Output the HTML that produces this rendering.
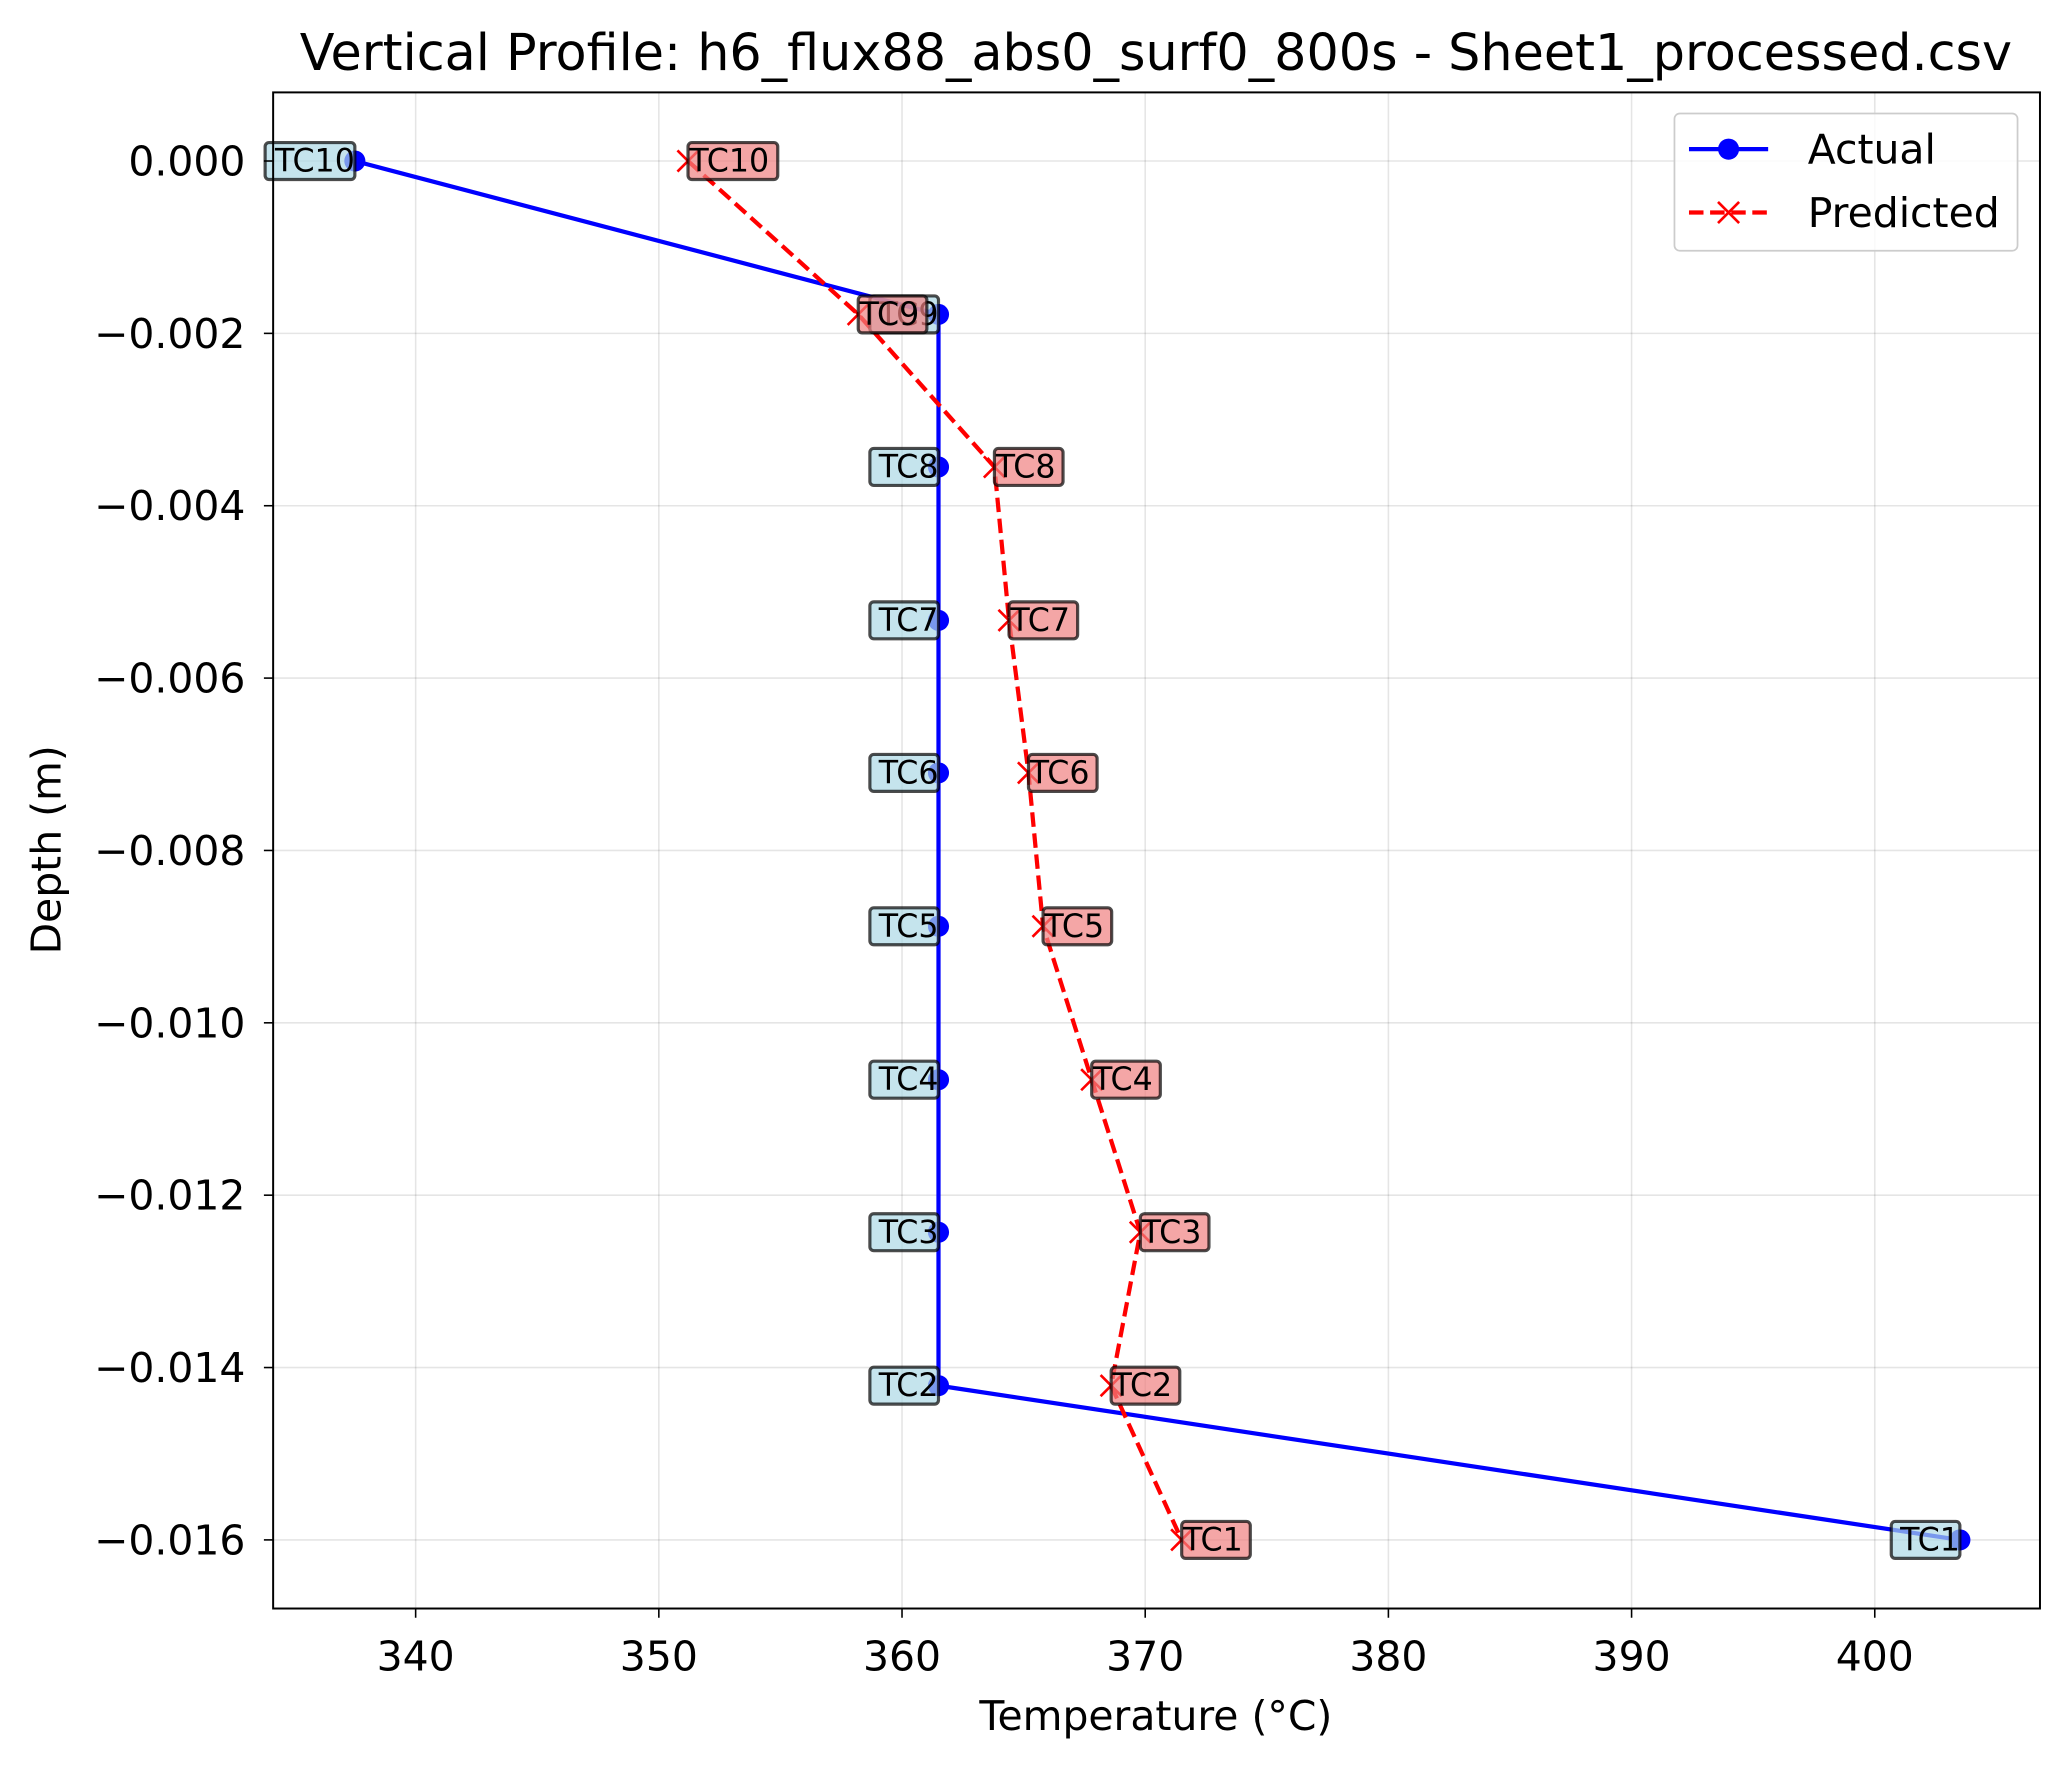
<!DOCTYPE html>
<html><head><meta charset="utf-8"><style>
html,body{margin:0;padding:0;background:#fff}
svg{display:block;font-family:"DejaVu Sans","Liberation Sans",sans-serif}
</style></head><body>
<svg id="chart" width="2069" height="1769" viewBox="0 0 1568 1340.6" xmlns="http://www.w3.org/2000/svg">
<rect width="1568" height="1340.6" fill="#fff"/>
<g id="grid"></g>
<g id="series"></g>
<g id="labels"></g>
<rect x="207" y="70" width="1339" height="1149" fill="none" stroke="#000" stroke-width="1.5"/>
<g id="ticks"></g>
<text x="876" y="53" font-size="38.5" text-anchor="middle">Vertical Profile: h6_flux88_abs0_surf0_800s - Sheet1_processed.csv</text>
<text x="876" y="1311" font-size="31" text-anchor="middle">Temperature (°C)</text>
<text transform="translate(46,644) rotate(-90)" font-size="31" text-anchor="middle">Depth (m)</text>
<g>
<rect x="1269" y="86" width="260" height="104" rx="4" fill="#fff" fill-opacity="0.8" stroke="#ccc" stroke-width="1.3"/>
<line x1="1280" y1="113" x2="1340" y2="113" stroke="#0000ff" stroke-width="3.2"/>
<circle cx="1310" cy="113" r="8" fill="#0000ff"/>
<text x="1370" y="124" font-size="31">Actual</text>
<line x1="1280" y1="161" x2="1340" y2="161" stroke="#ff0000" stroke-width="3.2" stroke-dasharray="11,5"/>
<path d="M1302 153 L1318 169 M1318 153 L1302 169" stroke="#ff0000" stroke-width="2"/>
<text x="1370" y="172" font-size="31">Predicted</text>
</g>
</svg>
<script>
const labels = ["TC10","TC9","TC8","TC7","TC6","TC5","TC4","TC3","TC2","TC1"];
const depths = [0,-0.00178,-0.00355,-0.00533,-0.0071,-0.00888,-0.01066,-0.01243,-0.01421,-0.016];
const actual = [337.5,361.5,361.5,361.5,361.5,361.5,361.5,361.5,361.5,403.5];
const predicted = [351.2,358.2,363.8,364.4,365.2,365.8,367.8,369.8,368.6,371.5];
const xTicks = [340,350,360,370,380,390,400];
const yTicks = [0,-0.002,-0.004,-0.006,-0.008,-0.010,-0.012,-0.014,-0.016];
const yTickLabels = ["0.000","−0.002","−0.004","−0.006","−0.008","−0.010","−0.012","−0.014","−0.016"];

const NS="http://www.w3.org/2000/svg";
const X=v=>315+(v-340)*18.43;
const Y=v=>122+(v/-0.016)*1045;
function mk(tag,attrs,parent){const e=document.createElementNS(NS,tag);for(const k in attrs)e.setAttribute(k,attrs[k]);parent.appendChild(e);return e;}
const grid=document.getElementById('grid'),ticks=document.getElementById('ticks'),series=document.getElementById('series'),lab=document.getElementById('labels');
xTicks.forEach(t=>{
  const g=mk('line',{x1:X(t),x2:X(t),y1:70,y2:1219,stroke:'#000','stroke-opacity':0.1,'stroke-width':1.2},grid);
  
  
  mk('line',{x1:X(t),x2:X(t),y1:1219,y2:1226,stroke:'#000','stroke-width':1.2},ticks);
  const tx=mk('text',{x:X(t),y:1266,'font-size':31,'text-anchor':'middle'},ticks);
  
  
  tx.textContent=t;
});
yTicks.forEach((t,i)=>{
  const g=mk('line',{x1:207,x2:1546,y1:Y(t),y2:Y(t),stroke:'#000','stroke-opacity':0.1,'stroke-width':1.2},grid);
  
  
  mk('line',{x1:200,x2:207,y1:Y(t),y2:Y(t),stroke:'#000','stroke-width':1.2},ticks);
  const tx=mk('text',{x:186,y:Y(t)+11,'font-size':31,'text-anchor':'end'},ticks);
  
  
  tx.textContent=yTickLabels[i];
});
const pa=actual.map((v,i)=>X(v)+','+Y(depths[i])).join(' ');
const la=mk('polyline',{points:pa,fill:'none',stroke:'#0000ff','stroke-width':3.2},series);


actual.forEach((v,i)=>{
  const c=mk('circle',{cx:X(v),cy:Y(depths[i]),r:8,fill:'#0000ff'},series);
  
  
});
const pp=predicted.map((v,i)=>X(v)+','+Y(depths[i])).join(' ');
const lp=mk('polyline',{points:pp,fill:'none',stroke:'#ff0000','stroke-width':3.2,'stroke-dasharray':'11,5'},series);


predicted.forEach((v,i)=>{
  const x=X(v),y=Y(depths[i]);
  const p=mk('path',{d:`M${x-8} ${y-8} L${x+8} ${y+8} M${x+8} ${y-8} L${x-8} ${y+8}`,stroke:'#ff0000','stroke-width':2},series);
  
  
});
function box(x,y,text,fill,right){
  const w=text.length*16+4,h=28;
  const bx=right?x-w:x;
  const r=mk('rect',{x:bx,y:y-h/2,width:w,height:h,rx:3,fill:fill,'fill-opacity':0.7,stroke:'#000','stroke-opacity':0.7,'stroke-width':2.4},lab);
  
  
  const t=mk('text',{x:right?x:x+1,y:y+8,'font-size':24,'text-anchor':right?'end':'start'},lab);
  
  
  t.textContent=text;
}
labels.forEach((l,i)=>box(X(actual[i]),Y(depths[i]),l,'#add8e6',true));
labels.forEach((l,i)=>box(X(predicted[i]),Y(depths[i]),l,'#f08080',false));
</script>
</body></html>
